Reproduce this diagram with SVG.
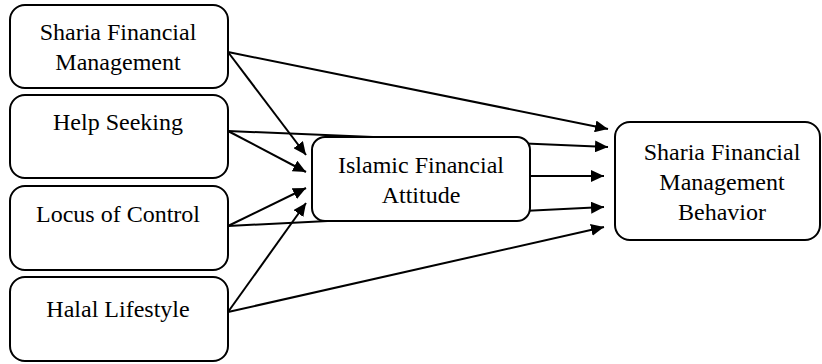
<svg xmlns="http://www.w3.org/2000/svg" width="822" height="364" viewBox="0 0 822 364">
<style>
.box{fill:#fff;stroke:#000;stroke-width:2}
.t{font-family:"Liberation Serif","Times New Roman",serif;font-size:24px;fill:#000;text-anchor:middle}
.c{stroke:#000;stroke-width:2;fill:none;marker-end:url(#ah)}
</style>
<defs>
<marker id="ah" markerUnits="userSpaceOnUse" markerWidth="14" markerHeight="12" refX="13" refY="6" orient="auto">
<path d="M0,0 L13,6 L0,12 z" fill="#000"/>
</marker>
</defs>
<rect width="822" height="364" fill="#fff"/>
<g id="connectors">
<line class="c" x1="228" y1="52" x2="608" y2="129"/>
<line class="c" x1="228" y1="52" x2="306" y2="155"/>
<line class="c" x1="228" y1="131" x2="608" y2="147"/>
<line class="c" x1="228" y1="131" x2="306" y2="172"/>
<line class="c" x1="228" y1="226" x2="306" y2="188"/>
<line class="c" x1="228" y1="226" x2="604" y2="207"/>
<line class="c" x1="530" y1="176" x2="604" y2="176"/>
<line class="c" x1="228" y1="312" x2="306" y2="203"/>
<line class="c" x1="228" y1="312" x2="604" y2="227"/>
</g>
<g id="sfm">
<rect class="box" x="10" y="5" width="218" height="83" rx="15"/>
<text class="t" x="118" y="40">Sharia Financial</text>
<text class="t" x="118" y="70">Management</text>
</g>
<g id="hs">
<rect class="box" x="10" y="95" width="218" height="83" rx="15"/>
<text class="t" x="118" y="130">Help Seeking</text>
</g>
<g id="loc">
<rect class="box" x="10" y="186" width="218" height="84" rx="15"/>
<text class="t" x="118" y="222">Locus of Control</text>
</g>
<g id="hl">
<rect class="box" x="10" y="277" width="218" height="84" rx="15"/>
<text class="t" x="118" y="317">Halal Lifestyle</text>
</g>
<g id="ifa">
<rect class="box" x="312" y="137" width="218" height="84" rx="13"/>
<text class="t" x="421" y="173">Islamic Financial</text>
<text class="t" x="421" y="203">Attitude</text>
</g>
<g id="sfmb">
<rect class="box" x="615" y="122" width="205" height="118" rx="15"/>
<text class="t" x="722" y="160">Sharia Financial</text>
<text class="t" x="722" y="190">Management</text>
<text class="t" x="722" y="220">Behavior</text>
</g>
</svg>
